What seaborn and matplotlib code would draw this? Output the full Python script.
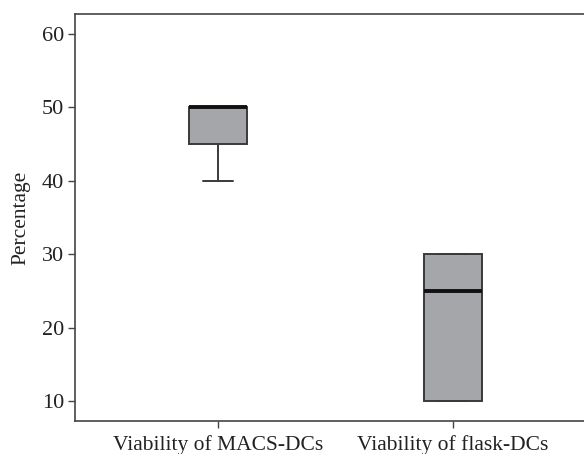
import matplotlib
matplotlib.use("Agg")
import matplotlib.pyplot as plt
import seaborn as sns
import pandas as pd

categories = ["Viability of MACS-DCs", "Viability of flask-DCs"]
macs_values = [40, 45, 50, 50, 50]
flask_values = [10, 10, 25, 30, 30]
y_ticks = [10, 20, 30, 40, 50, 60]

df = pd.DataFrame({
    "group": [categories[0]] * len(macs_values) + [categories[1]] * len(flask_values),
    "Percentage": macs_values + flask_values,
})

sns.set_style("white")
plt.rcParams["font.family"] = ["Liberation Serif", "DejaVu Serif"]

fig = plt.figure(figsize=(5.84, 4.54), dpi=100)
ax = fig.add_axes([0.1284, 0.0716, 0.8716, 0.8975])

sns.boxplot(data=df, x="group", y="Percentage", order=categories, ax=ax,
            color="#a5a6aa", saturation=1, width=0.25, linewidth=1.4,
            linecolor="#3a3a3a", whis=1.5, fliersize=0,
            medianprops=dict(color="#111111", linewidth=2.8),
            capprops=dict(color="#3a3a3a", linewidth=1.4),
            whiskerprops=dict(color="#3a3a3a", linewidth=1.4))

ax.set_xlim(-0.6085, 1.557)
ax.set_ylim(7.25, 62.7)
ax.set_yticks(y_ticks)
ax.set_yticklabels([str(t) for t in y_ticks])
ax.set_xlabel("")
ax.set_ylabel("Percentage", fontsize=15.5, color="#222222", labelpad=8)

for s in ["left", "top", "bottom"]:
    ax.spines[s].set_color("#444444")
    ax.spines[s].set_linewidth(1.2)
ax.spines["right"].set_visible(False)

ax.tick_params(axis="y", direction="out", length=5, width=1, color="#444444",
               labelsize=16, labelcolor="#222222", pad=3, left=True)
ax.tick_params(axis="x", direction="out", length=5, width=1, color="#444444",
               labelsize=15.5, labelcolor="#222222", pad=5, bottom=True)

fig.savefig("out.png", dpi=100)
